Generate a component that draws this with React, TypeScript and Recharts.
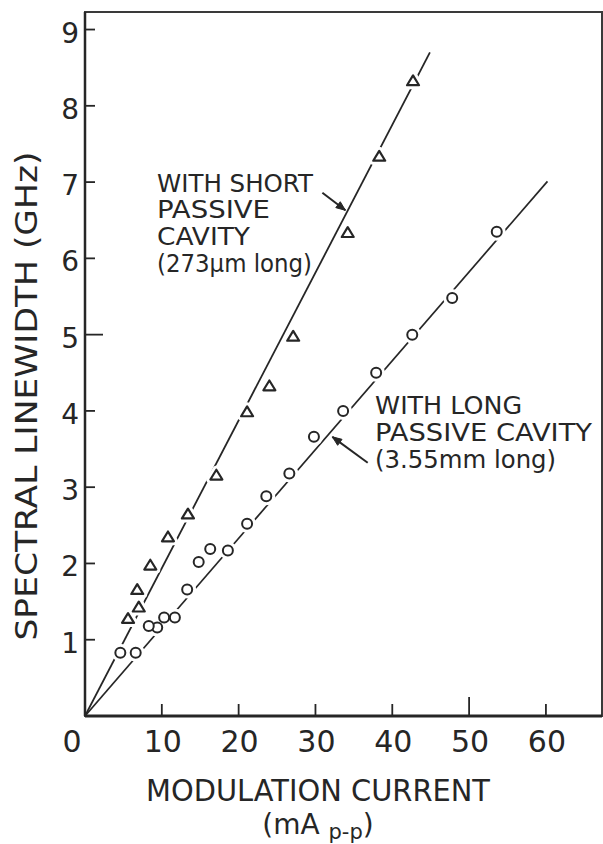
import React from 'react';
import {
  ScatterChart,
  Scatter,
  XAxis,
  YAxis,
  ReferenceLine,
  ReferenceArea,
  ReferenceDot,
} from 'recharts';

// ---------- data ----------
const shortCavityX = [42.7, 38.3, 34.2, 27.1, 24.0, 21.1, 17.1, 13.4, 10.8, 8.5, 6.8, 7.0, 5.6];
const shortCavityY = [8.32, 7.33, 6.33, 4.97, 4.32, 3.98, 3.15, 2.64, 2.34, 1.97, 1.65, 1.42, 1.27];

const longCavityX = [53.6, 47.8, 42.6, 37.9, 33.6, 29.8, 26.6, 23.6, 21.1, 18.6, 16.3, 14.8, 13.3, 11.7, 10.3, 9.4, 8.3, 6.6, 4.6];
const longCavityY = [6.35, 5.48, 5.0, 4.5, 4.0, 3.66, 3.18, 2.88, 2.52, 2.17, 2.19, 2.02, 1.66, 1.29, 1.29, 1.16, 1.18, 0.83, 0.83];

const shortFitX = [0, 44.9];
const shortFitY = [0, 8.7];
const longFitX = [0, 60.2];
const longFitY = [0, 7.01];

const xTickValues = [0, 10, 20, 30, 40, 50, 60];
const yTickValues = [1, 2, 3, 4, 5, 6, 7, 8, 9];

const xTitle = 'MODULATION CURRENT';
const xUnitMain = '(mA ';
const xUnitSub = 'p-p';
const xUnitEnd = ')';
const yTitle = 'SPECTRAL LINEWIDTH (GHz)';

const shortNote = ['WITH SHORT', 'PASSIVE', 'CAVITY', '(273\u03bcm long)'];
const longNote = ['WITH LONG', 'PASSIVE CAVITY', '(3.55mm long)'];

// ---------- layout / style ----------
const W = 603;
const H = 844;
const X_MAX = 67.3;
const Y_MAX = 9.23;
const INK = '#262626';
const FONT = "'DejaVu Sans', sans-serif";

const shortNoteAt = { x: 9.375, y: 6.875 };
const shortNoteWidths = [156, 113, 93, 155];
const longNoteAt = { x: 37.76, y: 3.953 };
const longNoteWidths = [147, 217, 181];
const NOTE_STEP = 26.7;
const NOTE_FONT = 25;

const shortArrow = [{ x: 30.9, y: 6.86 }, { x: 33.9, y: 6.63 }];
const longArrow = [{ x: 36.8, y: 3.32 }, { x: 32.2, y: 3.66 }];

const zip = (xs: number[], ys: number[]) => xs.map((x, i) => ({ x, y: ys[i] }));

const shortData = zip(shortCavityX, shortCavityY);
const longData = zip(longCavityX, longCavityY);
const shortFit = zip(shortFitX, shortFitY);
const longFit = zip(longFitX, longFitY);

// ---------- shapes ----------
const triPoints = (cx: number, cy: number) =>
  `${cx},${cy - 6} ${cx - 6},${cy + 3.8} ${cx + 6},${cy + 3.8}`;

const TriHalo = (p: any) => (
  <polygon points={triPoints(p.cx, p.cy)} fill="#fff" stroke="#fff" strokeWidth={8} strokeLinejoin="round" />
);
const Tri = (p: any) => (
  <polygon points={triPoints(p.cx, p.cy)} fill="#fff" stroke={INK} strokeWidth={2.2} strokeLinejoin="round" />
);
const CircHalo = (p: any) => <circle cx={p.cx} cy={p.cy} r={5} fill="#fff" stroke="#fff" strokeWidth={8} />;
const Circ = (p: any) => <circle cx={p.cx} cy={p.cy} r={5} fill="#fff" stroke={INK} strokeWidth={2} />;
const NoShape = () => <g />;

const Arrow = (p: any) => {
  const { x1, y1, x2, y2 } = p;
  const a = Math.atan2(y2 - y1, x2 - x1);
  const L = 10;
  const s = 0.38;
  const hx1 = x2 - L * Math.cos(a - s);
  const hy1 = y2 - L * Math.sin(a - s);
  const hx2 = x2 - L * Math.cos(a + s);
  const hy2 = y2 - L * Math.sin(a + s);
  return (
    <g>
      <line x1={x1} y1={y1} x2={x2} y2={y2} stroke={INK} strokeWidth={2} />
      <polygon points={`${x2},${y2} ${hx1},${hy1} ${hx2},${hy2}`} fill={INK} stroke={INK} strokeWidth={1} />
    </g>
  );
};

// ---------- ticks ----------
const YTick = (props: any) => {
  const { x, y, payload } = props;
  const v = payload.value;
  const len = v === 5 ? 18 : 10;
  return (
    <g>
      <line x1={x} x2={x + len} y1={y} y2={y} stroke={INK} strokeWidth={1.8} />
      <text x={x - 6} y={y + 13} textAnchor="end" fontFamily={FONT} fontSize={28} fill={INK}>
        {v}
      </text>
    </g>
  );
};

const XTick = (props: any) => {
  const { x, y, payload } = props;
  const v = payload.value;
  const len = v === 50 ? 19 : 12;
  return (
    <g>
      {v !== 0 && <line x1={x} x2={x} y1={y} y2={y - len} stroke={INK} strokeWidth={1.8} />}
      <text x={v === 0 ? x - 13 : x + 1} y={y + 36} textAnchor="middle" fontFamily={FONT} fontSize={30} fill={INK}>
        {v}
      </text>
    </g>
  );
};

// ---------- labels ----------
const renderYTitle = (props: any) => {
  const vb = props.viewBox || { x: 0, y: 12, width: 85, height: 704 };
  const cx = vb.x + 37;
  const cy = vb.y + 384;
  return (
    <text
      x={cx}
      y={cy}
      transform={`rotate(-90, ${cx}, ${cy})`}
      textAnchor="middle"
      fontFamily={FONT}
      fontSize={30}
      fill={INK}
      textLength={489}
      lengthAdjust="spacingAndGlyphs"
    >
      {yTitle}
    </text>
  );
};

const renderXTitle = (props: any) => {
  const vb = props.viewBox || { x: 85, y: 716, width: 517, height: 128 };
  const cx = vb.x + 233;
  return (
    <g>
      <text
        x={cx}
        y={vb.y + 85}
        textAnchor="middle"
        fontFamily={FONT}
        fontSize={30}
        fill={INK}
        textLength={344}
        lengthAdjust="spacingAndGlyphs"
      >
        {xTitle}
      </text>
      <text x={cx} y={vb.y + 118} textAnchor="middle" fontFamily={FONT} fontSize={28} fill={INK}>
        {xUnitMain}
        <tspan fontSize={21} dy={5}>
          {xUnitSub}
        </tspan>
        <tspan dy={-5}>{xUnitEnd}</tspan>
      </text>
    </g>
  );
};

const makeNote = (lines: string[], widths: number[]) => (props: any) => {
  const vb = props.viewBox || { x: 0, y: 0 };
  return (
    <g>
      {lines.map((t, i) => (
        <text
          key={i}
          x={vb.x}
          y={vb.y + i * NOTE_STEP}
          fontFamily={FONT}
          fontSize={NOTE_FONT}
          fill={INK}
          textLength={widths[i]}
          lengthAdjust="spacingAndGlyphs"
        >
          {t}
        </text>
      ))}
    </g>
  );
};

export default function App() {
  return (
    <div style={{ position: 'absolute', left: 0, top: 0, width: W, height: H, background: '#fff' }}>
      <ScatterChart width={W} height={H} margin={{ top: 12, right: 1, left: 0, bottom: 0 }}>
        <XAxis
          type="number"
          dataKey="x"
          domain={[0, X_MAX]}
          ticks={xTickValues}
          interval={0}
          tickSize={0}
          tickMargin={0}
          tickLine={false}
          tick={<XTick />}
          height={128}
          axisLine={{ stroke: INK, strokeWidth: 3 }}
          allowDataOverflow
          label={renderXTitle}
        />
        <YAxis
          type="number"
          dataKey="y"
          domain={[0, Y_MAX]}
          ticks={yTickValues}
          interval={0}
          tickSize={0}
          tickMargin={0}
          tickLine={false}
          tick={<YTick />}
          width={85}
          axisLine={{ stroke: INK, strokeWidth: 2.5 }}
          allowDataOverflow
          label={renderYTitle}
        />
        <ReferenceArea x1={0} x2={X_MAX} y1={0} y2={Y_MAX} fill="none" stroke="#3a3a3a" strokeWidth={2} ifOverflow="visible" />

        <Scatter data={shortFit} line={{ stroke: INK, strokeWidth: 1.8 }} shape={NoShape} isAnimationActive={false} />
        <Scatter data={longFit} line={{ stroke: INK, strokeWidth: 1.7 }} shape={NoShape} isAnimationActive={false} />

        <Scatter data={shortData} shape={TriHalo} isAnimationActive={false} />
        <Scatter data={longData} shape={CircHalo} isAnimationActive={false} />
        <Scatter data={shortData} shape={Tri} isAnimationActive={false} />
        <Scatter data={longData} shape={Circ} isAnimationActive={false} />

        <ReferenceLine segment={shortArrow} shape={Arrow} ifOverflow="visible" />
        <ReferenceLine segment={longArrow} shape={Arrow} ifOverflow="visible" />

        <ReferenceDot x={shortNoteAt.x} y={shortNoteAt.y} r={0} fill="none" stroke="none" label={makeNote(shortNote, shortNoteWidths)} />
        <ReferenceDot x={longNoteAt.x} y={longNoteAt.y} r={0} fill="none" stroke="none" label={makeNote(longNote, longNoteWidths)} />
      </ScatterChart>
    </div>
  );
}
